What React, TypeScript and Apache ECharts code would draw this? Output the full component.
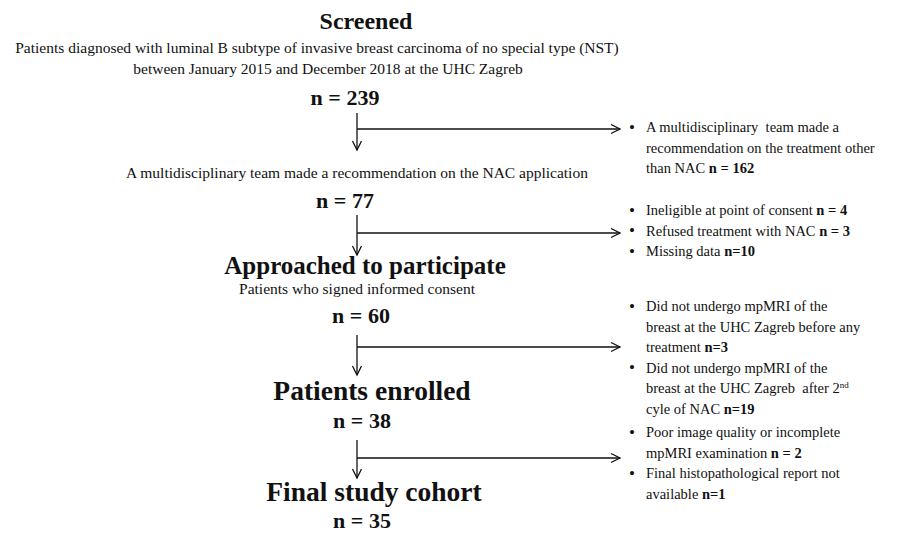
import React, { useEffect, useRef } from "react";
import * as echarts from "echarts";

// ---------- data ----------
const stageTitles = ["Screened", "", "Approached to participate", "Patients enrolled", "Final study cohort"];
const stageDescriptions: string[][] = [
  [
    "Patients diagnosed with luminal B subtype of invasive breast carcinoma of no special type (NST)",
    "between January 2015 and December 2018 at the UHC Zagreb",
  ],
  ["A multidisciplinary team made a recommendation on the NAC application"],
  ["Patients who signed informed consent"],
  [],
  [],
];
const stageCounts = [239, 77, 60, 38, 35];

type Item = { lines: string[]; n: string };
const exclusions1: Item[] = [
  { lines: ["A multidisciplinary  team made a", "recommendation on the treatment other", "than NAC "], n: "n = 162" },
];
const exclusions2: Item[] = [
  { lines: ["Ineligible at point of consent "], n: "n = 4" },
  { lines: ["Refused treatment with NAC "], n: "n = 3" },
  { lines: ["Missing data "], n: "n=10" },
];
const exclusions3: Item[] = [
  { lines: ["Did not undergo mpMRI of the", "breast at the UHC Zagreb before any", "treatment "], n: "n=3" },
  { lines: ["Did not undergo mpMRI of the", "breast at the UHC Zagreb  after 2{sup|nd}", "cyle of NAC "], n: "n=19" },
];
const exclusions4: Item[] = [
  { lines: ["Poor image quality or incomplete", "mpMRI examination "], n: "n = 2" },
  { lines: ["Final histopathological report not", "available "], n: "n=1" },
];
const exclusionGroups = [exclusions1, exclusions2, exclusions3, exclusions4];

// ---------- layout ----------
const FONT = '"Liberation Serif", "DejaVu Serif", serif';
const INK = "#111111";
const ARROW_X = 357;
const ARROW_END_X = 620;
const BULLET_X = 632;
const BULLET_TEXT_X = 646;
const LINE_H = 20.5;

const stageLayout = [
  { titleY: 21, titleX: 366, titleSize: 24, descY: [47, 68], descX: [317, 328], countY: 97, countX: 345 },
  { titleY: 0, titleX: 360, titleSize: 24, descY: [172], descX: [357], countY: 200, countX: 345 },
  { titleY: 265, titleX: 365, titleSize: 25, descY: [288], descX: [357], countY: 315, countX: 361 },
  { titleY: 390, titleX: 372, titleSize: 27.5, descY: [], descX: [], countY: 420, countX: 362 },
  { titleY: 491, titleX: 374, titleSize: 27.5, descY: [], descX: [], countY: 520, countX: 362 },
];
const arrowLayout = [
  { top: 113, bottom: 150, horizY: 129, bulletTop: 127 },
  { top: 215, bottom: 255, horizY: 233, bulletTop: 210 },
  { top: 335, bottom: 375, horizY: 347, bulletTop: 306 },
  { top: 440, bottom: 478, horizY: 458, bulletTop: 432 },
];

function buildGraphics() {
  const els: any[] = [];
  const text = (x: number, y: number, t: string, font: string, align = "center", rich?: any) => {
    els.push({
      type: "text",
      x,
      y,
      silent: true,
      style: {
        text: t,
        font,
        fill: INK,
        align,
        textAlign: align,
        verticalAlign: "middle",
        textVerticalAlign: "middle",
        rich,
      },
    });
  };
  const line = (x1: number, y1: number, x2: number, y2: number) => {
    els.push({
      type: "line",
      silent: true,
      shape: { x1, y1, x2, y2 },
      style: { stroke: INK, lineWidth: 1.3 },
    });
  };
  const poly = (pts: number[][]) => {
    els.push({
      type: "polyline",
      silent: true,
      shape: { points: pts },
      style: { stroke: INK, lineWidth: 1.3, fill: null },
    });
  };

  stageTitles.forEach((t, i) => {
    const L = stageLayout[i];
    if (t) text(L.titleX, L.titleY, t, `bold ${L.titleSize}px ${FONT}`);
    stageDescriptions[i].forEach((d, j) => text(L.descX[j], L.descY[j], d, `15.5px ${FONT}`));
    text(L.countX, L.countY, `n = ${stageCounts[i]}`, `bold 22px ${FONT}`);
  });

  const rich = {
    b: { fontWeight: "bold", fontSize: 14.5, fontFamily: FONT, fill: INK },
    sup: { fontSize: 9, fontFamily: FONT, fill: INK, verticalAlign: "top", padding: [0, 0, 6, 0] },
  };

  arrowLayout.forEach((A, g) => {
    line(ARROW_X, A.top, ARROW_X, A.bottom);
    poly([
      [ARROW_X - 4.5, A.bottom - 9],
      [ARROW_X, A.bottom],
      [ARROW_X + 4.5, A.bottom - 9],
    ]);
    line(ARROW_X, A.horizY, ARROW_END_X, A.horizY);
    poly([
      [ARROW_END_X - 9, A.horizY - 4.5],
      [ARROW_END_X, A.horizY],
      [ARROW_END_X - 9, A.horizY + 4.5],
    ]);
    let y = A.bulletTop;
    exclusionGroups[g].forEach((item) => {
      text(BULLET_X, y, "•", `17px ${FONT}`);
      item.lines.forEach((ln, k) => {
        const last = k === item.lines.length - 1;
        const t = last ? `${ln}{b|${item.n}}` : ln;
        text(BULLET_TEXT_X, y, t, `14.5px ${FONT}`, "left", rich);
        y += LINE_H;
      });
    });
  });
  return els;
}

export default function App() {
  const ref = useRef<HTMLDivElement>(null);
  useEffect(() => {
    if (!ref.current) return;
    const chart = echarts.init(ref.current, undefined, { renderer: "svg" });
    chart.setOption({
      animation: false,
      backgroundColor: "#ffffff",
      graphic: { elements: buildGraphics() },
    });
    return () => chart.dispose();
  }, []);
  return (
    <div
      ref={ref}
      style={{ position: "fixed", left: 0, top: 0, width: 918, height: 538, background: "#fff" }}
    />
  );
}
